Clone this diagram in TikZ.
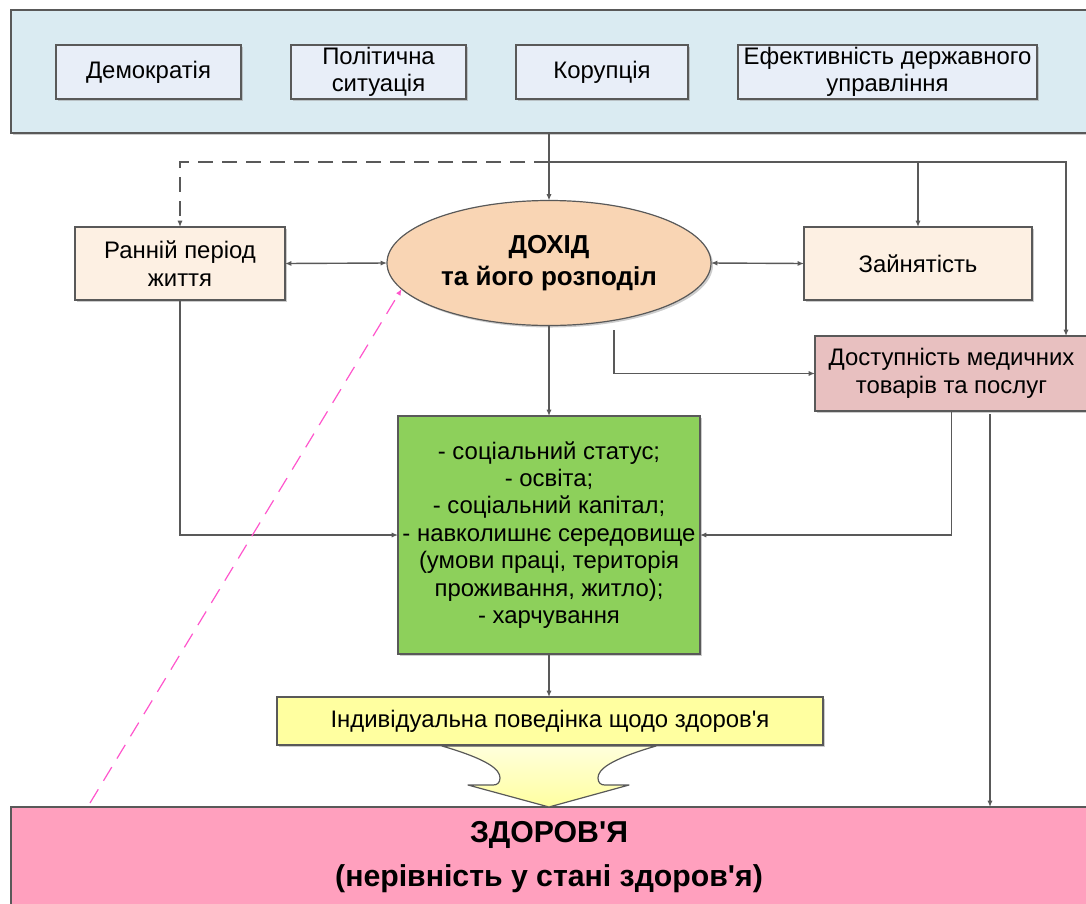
\documentclass[tikz,border=0pt]{standalone}
\usepackage{fontspec}
\setmainfont{Liberation Sans}[Ligatures=TeXOff]
\usetikzlibrary{arrows.meta,shapes.geometric,shadows}

\definecolor{c595959}{RGB}{89,89,89}
\definecolor{cdaebf2}{RGB}{218,235,242}
\definecolor{ce8eef8}{RGB}{232,238,248}
\definecolor{cfdf0e3}{RGB}{253,240,227}
\definecolor{cf9d5b4}{RGB}{249,213,180}
\definecolor{ce8c0c0}{RGB}{232,192,192}
\definecolor{c8dd05b}{RGB}{141,208,91}
\definecolor{cffffa0}{RGB}{255,255,160}
\definecolor{cffffdc}{RGB}{255,255,220}
\definecolor{cffa0be}{RGB}{255,160,190}
\definecolor{cff55cc}{RGB}{255,85,204}

\begin{document}
\begin{tikzpicture}[x=0.25mm, y=-0.25mm, inner sep=0pt, outer sep=0pt,
  every node/.append style={font=\fontsize{17}{19.5}\selectfont, align=center},
  >={Latex[length=1.6mm,width=1.3mm]},
  box/.style={draw=c595959, line width=0.3mm,
    drop shadow={shadow xshift=0.5mm, shadow yshift=-0.5mm, fill=black!40, opacity=0.5}},
  link/.style={draw=c595959, line width=0.35mm, ->},
  pinklink/.style={draw=cff55cc, line width=0.3mm, dash pattern=on 4mm off 2.5mm, ->}]
  \useasboundingbox (0,0) rectangle (1086,903);



  \node[box, fill=cdaebf2, minimum width=271.25mm, minimum height=30.75mm] (panel) at (553.5,71.5) {};



  \node[box, fill=ce8eef8, minimum width=46.25mm, minimum height=13.5mm] (demo) at (148.5,72) {Демократія};



  \node[box, fill=ce8eef8, minimum width=43.75mm, minimum height=13.5mm] (polit) at (378.5,72) {Політична\\ситуація};



  \node[box, fill=ce8eef8, minimum width=43mm, minimum height=13.5mm] (corrupt) at (602,72) {Корупція};



  \node[box, fill=ce8eef8, minimum width=74.75mm, minimum height=13.5mm] (govern) at (887.5,72) {Ефективність державного\\управління};



  \node[box, fill=cfdf0e3, minimum width=52.5mm, minimum height=18.25mm] (early) at (180,263.5) {Ранній період\\життя};



  \node[box, ellipse, fill=cf9d5b4, minimum width=81mm, minimum height=31.25mm,
    font=\fontsize{18.5}{22.5}\selectfont\bfseries] (income) at (549,263) {ДОХІД\\та його розподіл};



  \node[box, fill=cfdf0e3, minimum width=57mm, minimum height=18.25mm] (employ) at (918,263.5) {Зайнятість};



  \node[box, fill=ce8c0c0, minimum width=68.25mm, minimum height=18.75mm] (medical) at (951.5,373.5) {Доступність медичних\\товарів та послуг};



  \node[box, fill=c8dd05b, minimum width=75.5mm, minimum height=59.5mm,
    font=\fontsize{17}{19.5}\selectfont] (factors) at (549,535) {- соціальний статус;\\- освіта;\\- соціальний капітал;\\- навколишнє середовище\\(умови праці, територія\\проживання, житло);\\- харчування};



  \node[box, fill=cffffa0, minimum width=136.5mm, minimum height=12mm] (behaviour) at (550,721) {Індивідуальна поведінка щодо здоров'я};



  \node[box, fill=cffa0be, minimum width=269mm, minimum height=25mm,
    font=\fontsize{21.5}{31}\selectfont\bfseries] (health) at (549,857) {ЗДОРОВ'Я\\(нерівність у стані здоров'я)};



  \path[draw=c595959, line width=0.3mm, line join=round, top color=cffffdc, bottom color=cffffa0]
    (442,746) .. controls (490,760) and (500,770) .. (500,778)
    .. controls (500,783) and (497,785) .. (493,785) -- (468,785) -- (549,807)
    -- (629,785) -- (605,785) .. controls (601,785) and (598,783) .. (598,778)
    .. controls (598,770) and (608,760) .. (656,746) -- cycle;



  \coordinate (hub) at (549,162);
  \coordinate (medtop) at (1066,336);
  \coordinate (incout) at (614,330);
  \coordinate (medout) at (990,414);
  \coordinate (pinkfoot) at (90,803);



  \draw[link] (panel.south -| income.north) -- (income.north);
  \draw[link, dash pattern=on 3.8mm off 2.2mm] (hub) -| (early.north);
  \draw[link] (hub) -| (employ.north);
  \draw[link] (hub) -| (medtop);



  \draw[link, <->] (early.east) -- (income.west);
  \draw[link, <->] (income.east) -- (employ.west);



  \draw[link] (income.south) -- (factors.north);
  \draw[link] (incout) |- (medical.west);
  \draw[link] (early.south) |- (factors.west);
  \draw[link] (medical.south) |- (factors.east);
  \draw[link] (medout) -- (medout |- health.north);
  \draw[link] (factors.south) -- (factors.south |- behaviour.north);



  \draw[pinklink] (pinkfoot) -- (income.190);
\end{tikzpicture}
\end{document}
